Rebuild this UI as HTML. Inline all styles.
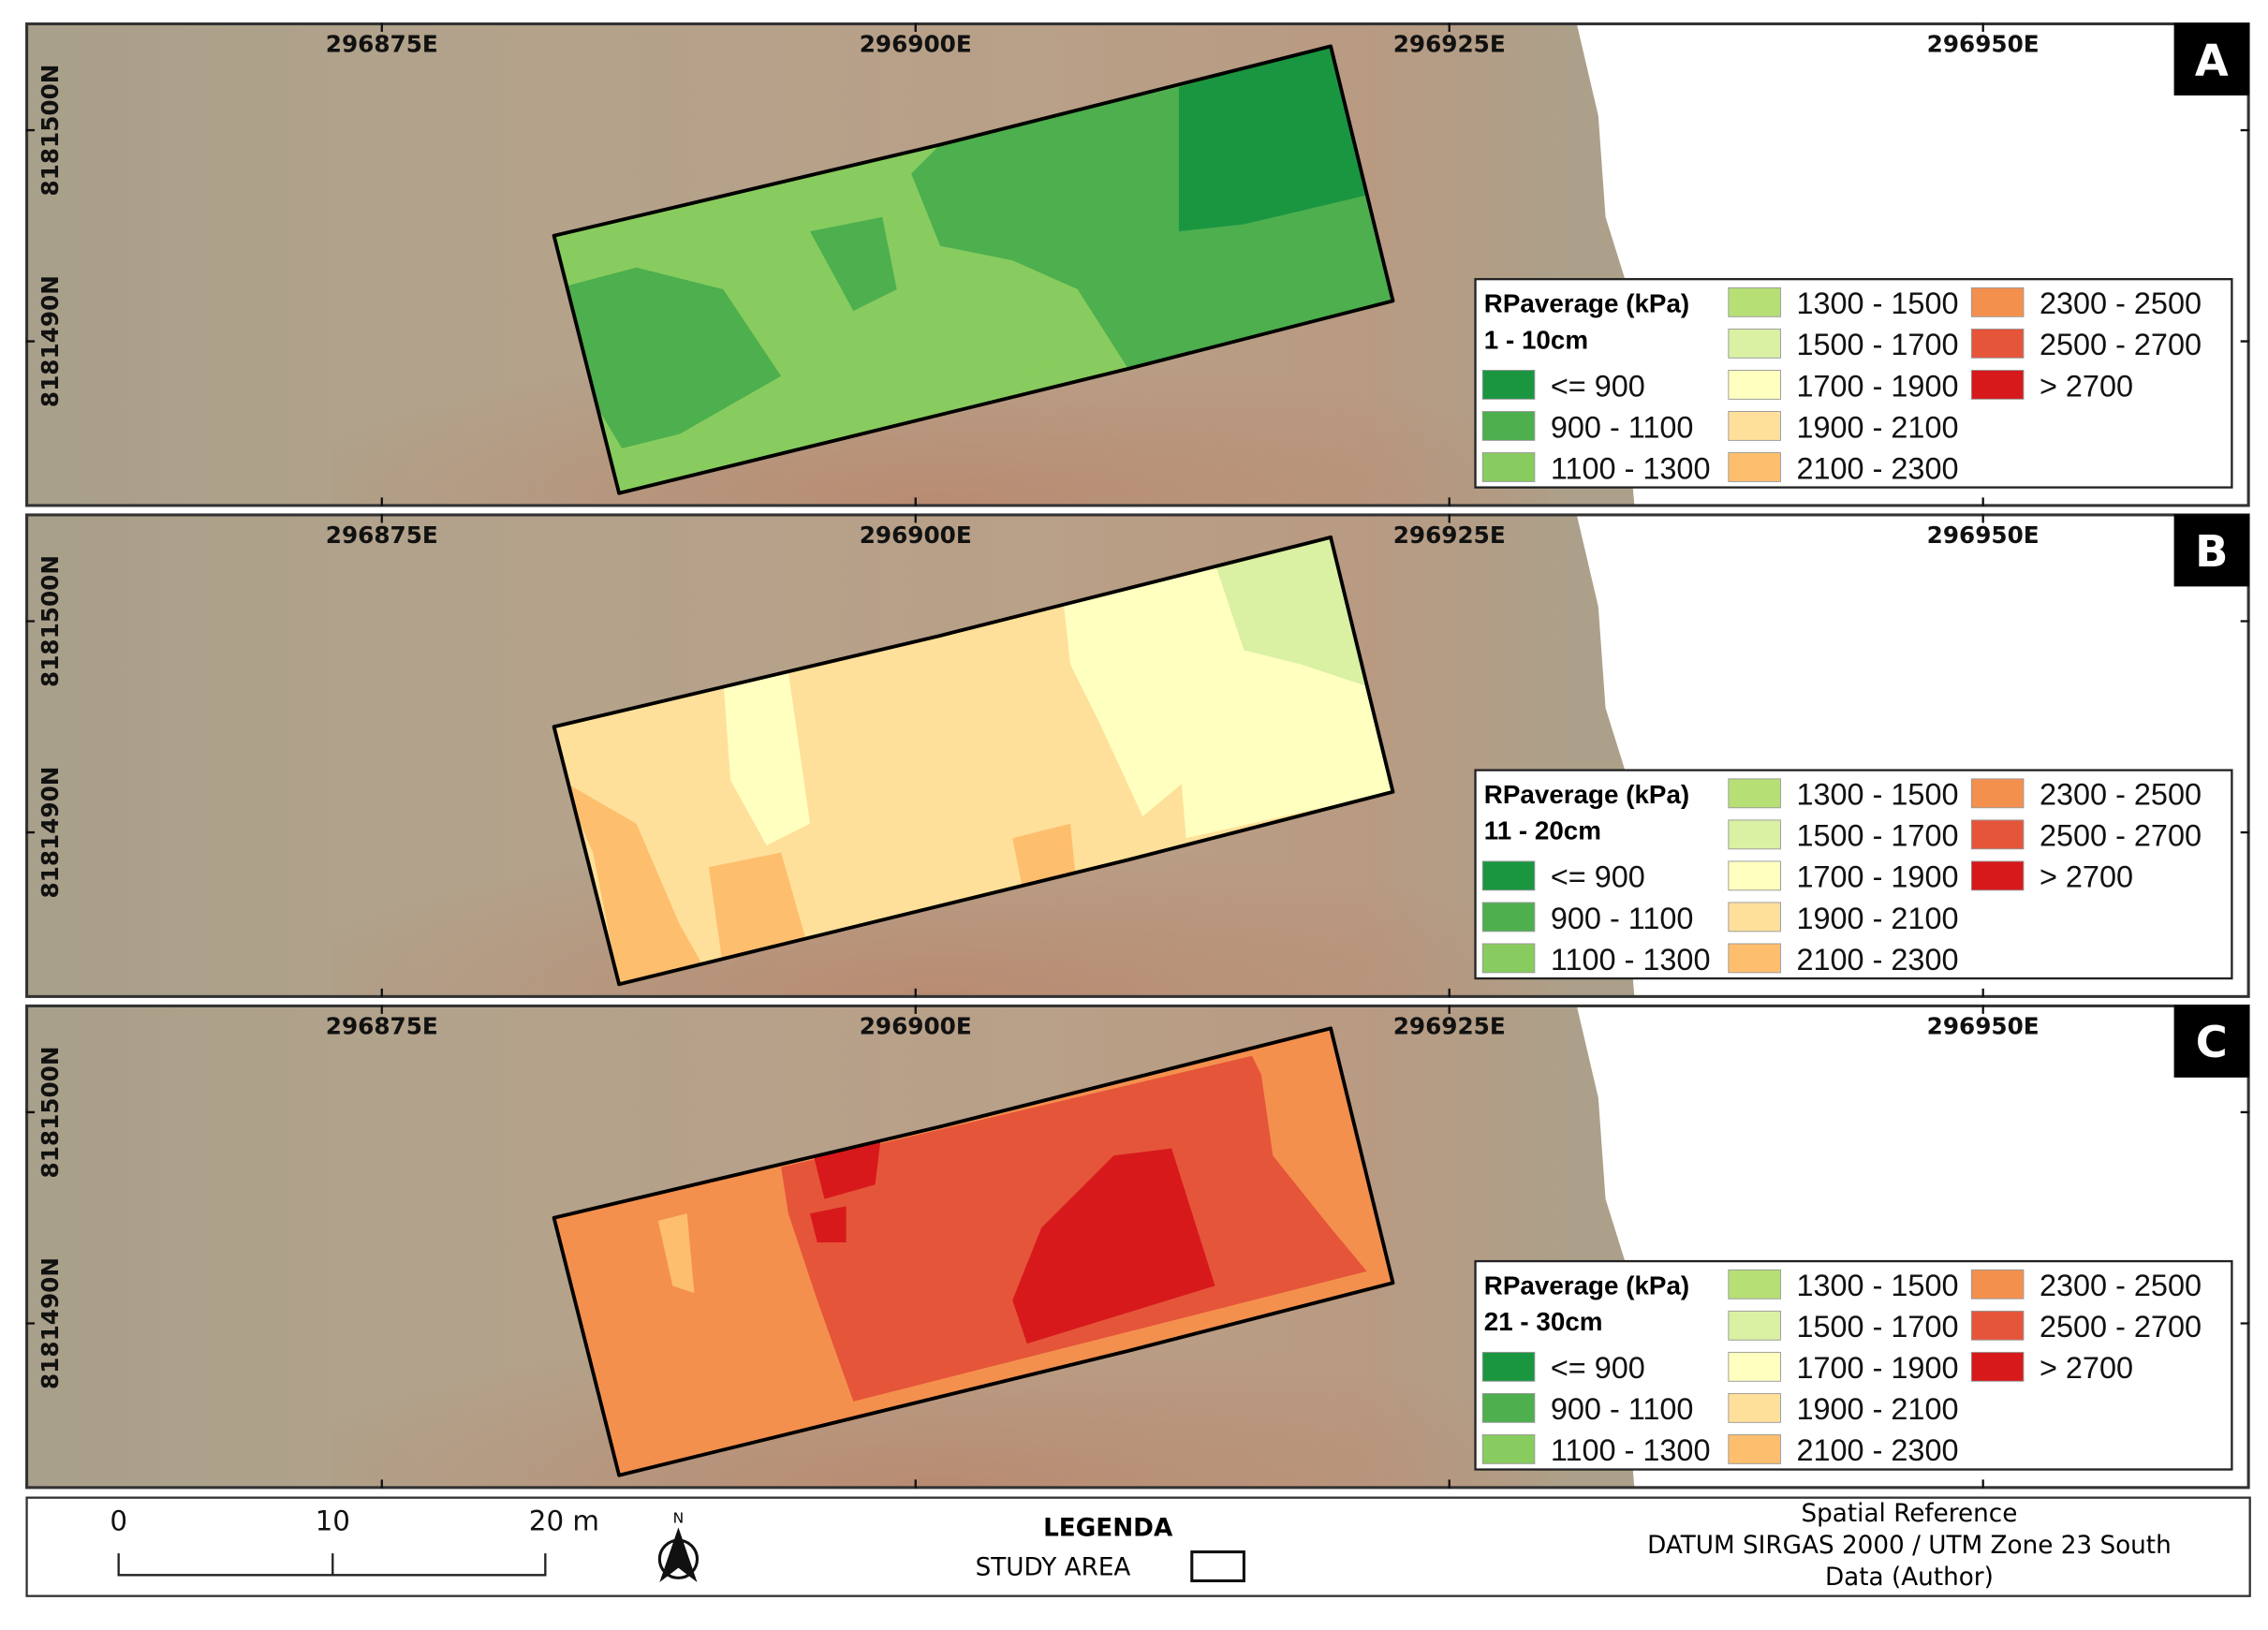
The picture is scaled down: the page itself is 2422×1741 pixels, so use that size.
<!DOCTYPE html>
<html><head><meta charset="utf-8"><style>
html,body{margin:0;padding:0;background:#fff;overflow:hidden}
svg{display:block;overflow:hidden}
text{font-family:"DejaVu Sans","Liberation Sans",sans-serif}
.lg{font-family:"Liberation Sans","DejaVu Sans",sans-serif}
</style></head><body>
<svg id="map" width="2422" height="1741" viewBox="0 0 1568 1127" preserveAspectRatio="none" xmlns="http://www.w3.org/2000/svg">
<defs>
<linearGradient id="bg" x1="0" y1="0" x2="1" y2="0">
<stop offset="0" stop-color="#a8a08a"/><stop offset="0.2" stop-color="#b3a28b"/><stop offset="0.45" stop-color="#b9a088"/><stop offset="0.6" stop-color="#b99a82"/><stop offset="0.7" stop-color="#aca08a"/><stop offset="1" stop-color="#a39c84"/>
</linearGradient>
<radialGradient id="red" cx="0.5" cy="1" r="0.55"><stop offset="0" stop-color="#b8866c" stop-opacity="0.8"/><stop offset="1" stop-color="#b8866c" stop-opacity="0"/></radialGradient>
<clipPath id="field"><polygon points="383,163 650,100 920,32 963,208 780,255 428,341"/></clipPath>
</defs>
<g id="panels"></g>
<g>
<rect x="18.5" y="1035.5" width="1537" height="68" fill="#fff" stroke="#333" stroke-width="1.5"/>
<g font-size="19" fill="#111">
<text x="82" y="1058" text-anchor="middle">0</text><text x="230" y="1058" text-anchor="middle">10</text><text x="390" y="1058" text-anchor="middle">20 m</text>
<path d="M82,1074V1089H377V1074M230,1074V1089" fill="none" stroke="#222" stroke-width="1.5"/>
</g>
<g>
<text x="469" y="1053" font-size="10" text-anchor="middle">N</text>
<circle cx="469" cy="1078" r="13" fill="none" stroke="#111" stroke-width="2"/>
<polygon points="469,1056 456,1094 469,1084 482,1094" fill="#111"/>
</g>
<text x="766" y="1062" font-size="17" font-weight="bold" text-anchor="middle">LEGENDA</text>
<text x="728" y="1089" font-size="17" text-anchor="middle">STUDY AREA</text>
<rect x="824" y="1073" width="36" height="20" fill="#fff" stroke="#111" stroke-width="2"/>
<g font-size="17" text-anchor="middle">
<text x="1320" y="1052">Spatial Reference</text>
<text x="1320" y="1074">DATUM SIRGAS 2000 / UTM Zone 23 South</text>
<text x="1320" y="1096">Data (Author)</text>
</g>
</g>
</svg>
<script>
const classLabels=["<= 900","900 - 1100","1100 - 1300","1300 - 1500","1500 - 1700","1700 - 1900","1900 - 2100","2100 - 2300","2300 - 2500","2500 - 2700","> 2700"];
const classColors=["#1a9641","#4daf4e","#88cc5f","#b6df76","#daf0a2","#ffffc0","#fee09a","#fdbe6e","#f4904e","#e5553a","#d7191c"];
const panelLetters=["A","B","C"];
const depthLabels=["1 - 10cm","11 - 20cm","21 - 30cm"];
const eastTicks=["296875E","296900E","296925E","296950E"];
const northTicks=["8181500N","8181490N"];
const baseClass=[2,6,8];
const patchesA=[[1,"650,100 815,60 815,160 945,135 963,208 780,255 745,200 700,180 650,170 630,120"],[1,"383,200 440,185 500,200 540,260 470,300 430,310 400,260"],[1,"560,160 610,150 620,200 590,215"],[0,"815,60 920,32 945,135 860,155 815,160"],[2,"650,200 700,190 730,250 680,270"]];
const patchesB=[[7,"388,200 440,230 470,300 490,335 428,341 410,250"],[7,"490,260 540,250 560,320 500,330"],[7,"700,240 740,230 745,280 710,290"],[5,"500,130 545,125 560,230 530,245 505,200"],[5,"735,75 805,58 820,200 790,225 760,160 740,120"],[5,"805,58 860,45 950,120 963,208 820,240"],[4,"840,50 920,32 945,135 900,120 860,110"]];
const patchesC=[[9,"540,128 870,50 880,120 920,170 945,200 590,290 565,220 545,160"],[10,"560,110 610,100 605,140 570,150"],[10,"560,160 585,155 585,180 565,180"],[10,"720,170 770,120 810,115 840,210 710,250 700,220"],[8,"865,50 920,32 950,150 900,120"],[7,"455,165 475,160 480,215 465,210"]];
const panelPatches=[patchesA,patchesB,patchesC];
const NS="http://www.w3.org/2000/svg";
function mk(tag,attrs,parent){const e=document.createElementNS(NS,tag);for(const k in attrs)e.setAttribute(k,attrs[k]);parent.appendChild(e);return e;}
const root=document.getElementById("panels");
const offsets=[0,339.5,679];
panelLetters.forEach((L,p)=>{
 const g=mk("g",{transform:"translate(0,"+offsets[p]+")"},root);
 
 
 mk("rect",{x:18,y:16,width:1537,height:334,fill:"url(#bg)"},g);
 mk("rect",{x:230,y:150,width:840,height:200,fill:"url(#red)"},g);
 mk("polygon",{points:"1090,16 1555,16 1555,350 1130,350 1125,290 1135,230 1110,150 1105,80",fill:"#fff"},g);
 const f=mk("g",{"clip-path":"url(#field)"},g);
 
 
 mk("rect",{x:370,y:20,width:610,height:330,fill:classColors[baseClass[p]]},f);
 panelPatches[p].forEach(pt=>{const e=mk("polygon",{points:pt[1],fill:classColors[pt[0]]},f);
  
  });
 const b=mk("polygon",{points:"383,163 650,100 920,32 963,208 780,255 428,341",fill:"none",stroke:"#000","stroke-width":2.5,"stroke-linejoin":"round"},g);
 
 
 mk("rect",{x:18.5,y:16.5,width:1536,height:333,fill:"none",stroke:"#333","stroke-width":2},g);
 eastTicks.forEach((t,i)=>{const x=264+i*369;
  const tx=mk("text",{x:x,y:36,"font-size":16,"font-weight":"bold","text-anchor":"middle",fill:"#111"},g);tx.textContent=t;
  
  
  mk("path",{d:"M"+x+",16v6M"+x+",344v6",stroke:"#111","stroke-width":1.5},g);});
 northTicks.forEach((t,i)=>{const y=90+i*146;
  const tx=mk("text",{x:0,y:0,"font-size":16,"font-weight":"bold","text-anchor":"middle",fill:"#111",transform:"translate(40,"+y+") rotate(-90)"},g);tx.textContent=t;
  
  
  mk("path",{d:"M18,"+y+"h6M1549,"+y+"h6",stroke:"#111","stroke-width":1.5},g);});
 mk("rect",{x:1503,y:16,width:52,height:50,fill:"#000"},g);
 const lt=mk("text",{x:1529,y:52,"font-size":30,"font-weight":"bold","text-anchor":"middle",fill:"#fff"},g);lt.textContent=L;
 
 
 const lg=mk("g",{class:"lg"},g);
 
 
 mk("rect",{x:1020,y:193,width:523,height:144,fill:"#fff",stroke:"#222","stroke-width":1.5},lg);
 const t1=mk("text",{x:1026,y:216,"font-size":18,"font-weight":"bold",class:"lg"},lg);t1.textContent="RPaverage (kPa)";
 const t2=mk("text",{x:1026,y:241,"font-size":18,"font-weight":"bold",class:"lg"},lg);t2.textContent=depthLabels[p];
 const cols=[[0,1,2],[3,4,5,6,7],[8,9,10]];
 const colX=[1025,1195,1363];const startRow=[2,0,0];
 cols.forEach((c,ci)=>c.forEach((k,ri)=>{const y=199+(startRow[ci]+ri)*28.5;
  const s=mk("rect",{x:colX[ci],y:y,width:36,height:20,fill:classColors[k],stroke:"#999","stroke-width":0.6},lg);
  
  
  const tt=mk("text",{x:colX[ci]+47,y:y+18,"font-size":21,fill:"#111",class:"lg"},lg);tt.textContent=classLabels[k];
  
  
 }));
});
</script>
</body></html>
